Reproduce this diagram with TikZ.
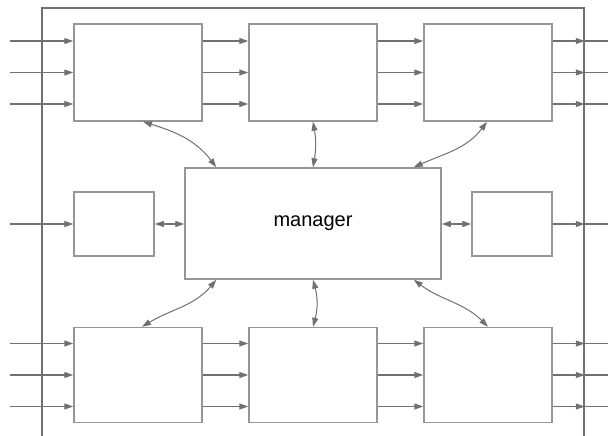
\documentclass[tikz,border=0pt]{standalone}
\usepackage{fontspec}
\setmainfont{Liberation Sans}
\usetikzlibrary{calc,positioning,arrows.meta}
\definecolor{linegray}{RGB}{112,112,112}
\definecolor{boxgray}{RGB}{150,150,150}

\begin{document}
\begin{tikzpicture}[
x=1pt,y=-1pt,
>={Triangle[length=9pt,width=6pt]},
block/.style={
	draw=boxgray,
	line width=1.5pt,
	fill=white,
	inner sep=0pt
},
flow/.style={
	->,
	draw=linegray,
	line width=1.2pt
},
wire/.style={
	draw=linegray,
	line width=1.2pt
},
link/.style={
	<->,
	draw=linegray,
	line width=1pt
},
frame/.style={
	draw=linegray,
	line width=1.2pt
}
]
\useasboundingbox (0,0) rectangle (608,436);

\draw[frame] (42,436) |- (584,8) -- (584,436);

\foreach \n/\x in {1/138,2/313,3/488}{
	\node[block,minimum width=128pt,minimum height=97pt] (t\n) at (\x,72.5) {};
	\node[block,minimum width=128pt,minimum height=95pt] (b\n) at (\x,375) {};
}
\node[block,minimum width=256pt,minimum height=111pt,font=\fontsize{20}{24}\selectfont] (man) at (313,223.5) {manager};
\node[block,minimum width=80pt,minimum height=64pt] (sl) at (114,224) {};
\node[block,minimum width=80pt,minimum height=64pt] (sr) at (512,224) {};

\foreach \d in {-31.5,0,31.5}{
	\draw[flow] ($(t1.west)+(-63,\d)$) -- ($(t1.west)+(0,\d)$);
	\draw[flow] ($(b1.west)+(-63,\d)$) -- ($(b1.west)+(0,\d)$);
	\draw[flow] ($(t1.east)+(0,\d)$) -- ($(t2.west)+(0,\d)$);
	\draw[flow] ($(b1.east)+(0,\d)$) -- ($(b2.west)+(0,\d)$);
	\draw[flow] ($(t2.east)+(0,\d)$) -- ($(t3.west)+(0,\d)$);
	\draw[flow] ($(b2.east)+(0,\d)$) -- ($(b3.west)+(0,\d)$);
	\draw[flow] ($(t3.east)+(0,\d)$) -- ($(t3.east)+(32,\d)$);
	\draw[flow] ($(b3.east)+(0,\d)$) -- ($(b3.east)+(32,\d)$);
	\draw[wire] ($(t3.east)+(32,\d)$) -- ($(t3.east)+(56,\d)$);
	\draw[wire] ($(b3.east)+(32,\d)$) -- ($(b3.east)+(56,\d)$);
}

\draw[flow] ($(sl.west)+(-63,0)$) -- (sl.west);
\draw[flow,<->] (sl.east) -- (sl.east -| man.west);
\draw[flow,<->] (sr.west -| man.east) -- (sr.west);
\draw[flow] (sr.east) -- ($(sr.east)+(32,0)$);
\draw[wire] ($(sr.east)+(32,0)$) -- ($(sr.east)+(56,0)$);

\draw[link] ($(t1.south)+(5,0)$) to[out=-17,in=127] ($(man.north west)+(32,0)$);
\draw[link] (t2.south) to[bend left=10] (man.north);
\draw[link] ($(t3.south)+(-1,0)$) to[out=-127,in=24] ($(man.north east)+(-28,0)$);
\draw[link] ($(man.south west)+(32,0)$) to[out=-130,in=31] ($(b1.north)+(4,0)$);
\draw[link] (man.south) to[bend left=15] (b2.north);
\draw[link] ($(man.south east)+(-28,0)$) to[out=-37,in=135] (b3.north);
\end{tikzpicture}
\end{document}
